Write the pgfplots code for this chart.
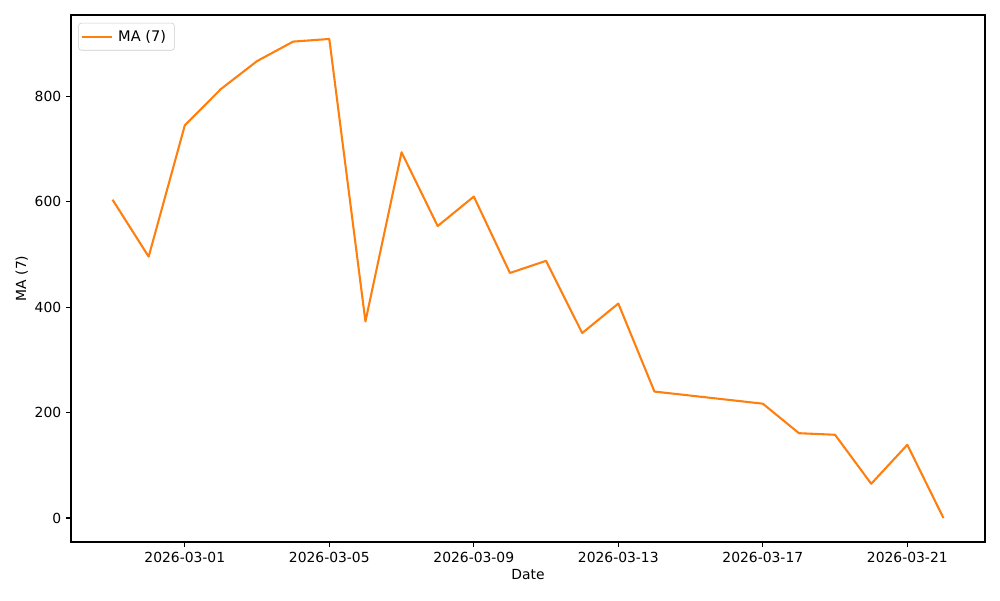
\documentclass[border=0pt]{standalone}
\usepackage{pgfplots}
\pgfplotsset{compat=1.18}
\usepackage{fontspec}
\setmainfont{DejaVu Sans}
\definecolor{mplorange}{HTML}{FF7F0E}
\begin{document}
\begin{tikzpicture}
\useasboundingbox (0,0) rectangle (720pt,432pt);
\begin{axis}[
  at={(51.12pt,41.76pt)}, anchor=south west,
  scale only axis, width=658.08pt, height=379.44pt,
  xmin=-3.15, xmax=22.15, ymin=-45.45, ymax=954.45,
  xtick={0,4,8,12,16,20},
  xticklabels={2026-03-01,2026-03-05,2026-03-09,2026-03-13,2026-03-17,2026-03-21},
  ytick={0,200,400,600,800},
  tick align=outside, tick pos=lower,
  major tick length=3.5pt,
  every tick/.style={black, line width=0.8pt},
  axis line style={line width=0.8pt},
  tick label style={font=\fontsize{10}{12}\selectfont},
  label style={font=\fontsize{10}{12}\selectfont},
  /pgf/number format/assume math mode=true,
  scaled y ticks=false,
  xlabel={Date}, ylabel={MA (7)},
  xlabel style={yshift=2pt},
  ylabel style={yshift=-2pt},
  legend cell align=left,
  legend style={font=\fontsize{10.5}{12}\selectfont, draw=black!20, rounded corners=2pt, inner xsep=2pt, inner ysep=2pt, at={(0.008,0.985)}, anchor=north west,
    nodes={inner xsep=4pt, inner ysep=3pt}},
  legend image code/.code={\draw[#1] (0pt,0pt) -- (21pt,0pt);},
]
\addplot[mplorange, line width=1.5pt, line join=round] coordinates {
(-2,604) (-1,496) (0,745) (1,814) (2,867) (3,904) (4,909)
(5,373) (6,694) (7,554) (8,610) (9,465) (10,488) (11,351)
(12,407) (13,240) (16,217) (17,161) (18,158) (19,65) (20,139) (21,0)
};
\addlegendentry{MA (7)}
\end{axis}
\end{tikzpicture}
\end{document}
